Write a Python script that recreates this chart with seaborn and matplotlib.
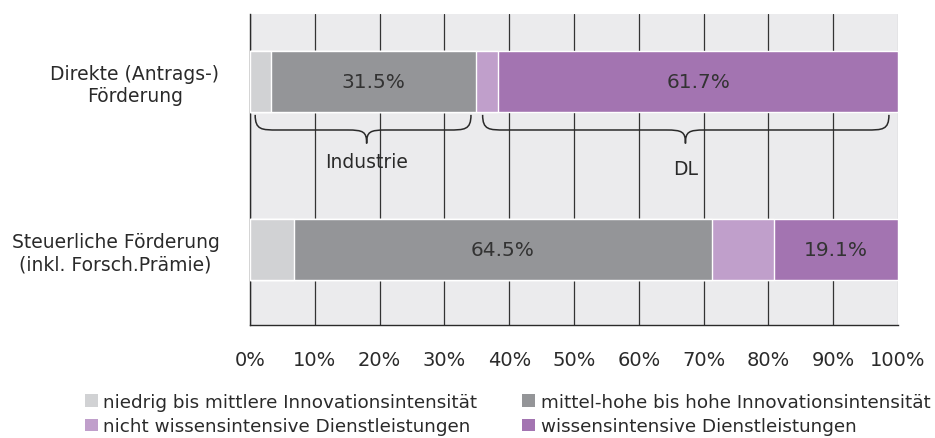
import matplotlib
matplotlib.use("Agg")
import matplotlib.pyplot as plt
from matplotlib.patches import Patch, PathPatch
from matplotlib.path import Path
import pandas as pd
import seaborn as sns

categories = ["Direkte (Antrags-)\nFörderung", "Steuerliche Förderung\n(inkl. Forsch.Prämie)"]
segments = ["niedrig bis mittlere Innovationsintensität",
            "mittel-hohe bis hohe Innovationsintensität",
            "nicht wissensintensive Dienstleistungen",
            "wissensintensive Dienstleistungen"]
niedrig = [3.3, 6.8]
mittel_hoch = [31.5, 64.5]
nicht_wiss = [3.5, 9.6]
wiss = [61.7, 19.1]
xticks = list(range(0, 101, 10))

COLORS = ["#d1d2d4", "#949598", "#c09fcb", "#a374b1"]
TXT = "#2a2a2a"

sns.set_theme(style="white")
plt.rcParams["font.family"] = ["DejaVu Sans"]
plt.rcParams["text.color"] = TXT

df = pd.DataFrame({"cat": categories, "s0": niedrig, "s1": mittel_hoch,
                   "s2": nicht_wiss, "s3": wiss})
cols = ["s0", "s1", "s2", "s3"]
cum = df[cols].cumsum(axis=1)

fig = plt.figure(figsize=(9.35, 4.39), dpi=100)
ax = fig.add_axes([250 / 935, 1 - 326 / 439, 648 / 935, 311 / 439])
ax.set_facecolor("#ebebed")

# stacked bars: draw cumulative totals from the back
for i in reversed(range(4)):
    sns.barplot(x=cum[cols[i]], y=df["cat"], orient="h", color=COLORS[i],
                width=0.36, saturation=1, ax=ax, zorder=3)

# segment value labels
for r in range(2):
    for i in (1, 3):
        val = df.loc[r, cols[i]]
        xc = cum.loc[r, cols[i]] - val / 2
        ax.text(xc, r, f"{val:.1f}%", ha="center", va="center",
                fontsize=14.5, color="#333333", zorder=5)


def brace(x0, x1, tipx, y0, y1, tip):
    verts = [(x0, y0), (x0, y1), (x0 + 1.0, y1), (x0 + 3.5, y1),
             (tipx - 3, y1),
             (tipx - 0.5, y1), (tipx, y1 + 0.01), (tipx, tip),
             (tipx, y1 + 0.01), (tipx + 0.5, y1), (tipx + 3, y1),
             (x1 - 3.5, y1),
             (x1 - 1.0, y1), (x1, y1), (x1, y0)]
    codes = [Path.MOVETO] + [Path.CURVE4] * 3 + [Path.LINETO] + \
        [Path.CURVE4] * 3 + [Path.CURVE4] * 3 + [Path.LINETO] + [Path.CURVE4] * 3
    ax.add_patch(PathPatch(Path(verts, codes), fill=False, lw=1.1,
                           edgecolor=TXT, zorder=4, clip_on=False))


brace(0.8, 34.1, 18.0, 0.20, 0.29, 0.37)
brace(35.9, 98.6, 67.2, 0.20, 0.29, 0.37)
ax.text(18.0, 0.48, "Industrie", ha="center", va="center", fontsize=13.5)
ax.text(67.2, 0.52, "DL", ha="center", va="center", fontsize=13.5)

ax.set_xlim(0, 100)
ax.set_ylim(1.45, -0.40)
ax.set_xticks(xticks)
ax.set_xticklabels([f"{t}%" for t in xticks], fontsize=14)
ax.set_yticks([0, 1])
ax.set_yticklabels(categories, fontsize=13.5, ha="right", multialignment="center")
ax.tick_params(axis="y", which="major", length=0, pad=22)
ax.set_yticks([-0.40, 0.61, 1.45], minor=True)
ax.tick_params(axis="y", which="minor", length=6, width=1, color=TXT)
ax.tick_params(axis="x", length=5, width=1, color=TXT, pad=13, labelcolor=TXT)
ax.tick_params(axis="y", labelcolor=TXT)
ax.xaxis.grid(True, color="#333333", lw=0.9, zorder=0)
ax.get_xgridlines()[-1].set_color("#b5b5b8")
ax.set_axisbelow(True)
ax.set_xlabel("")
ax.set_ylabel("")
for s in ("top", "right"):
    ax.spines[s].set_visible(False)
for s in ("left", "bottom"):
    ax.spines[s].set_color(TXT)
    ax.spines[s].set_linewidth(1)

# legend: row-wise order like the reference (matplotlib fills by column)
order = [0, 2, 1, 3]
handles = [Patch(facecolor=COLORS[i], edgecolor="none") for i in order]
labels = [segments[i] for i in order]
fig.legend(handles, labels, loc="upper left", bbox_to_anchor=(85 / 935, 1 - 394 / 439),
           ncol=2, frameon=False, fontsize=13.2, handlelength=0.7, handleheight=0.7,
           handletextpad=0.3, columnspacing=2.45, labelspacing=0.35,
           borderpad=0, borderaxespad=0)

fig.savefig("out.png", dpi=100, facecolor="white")
